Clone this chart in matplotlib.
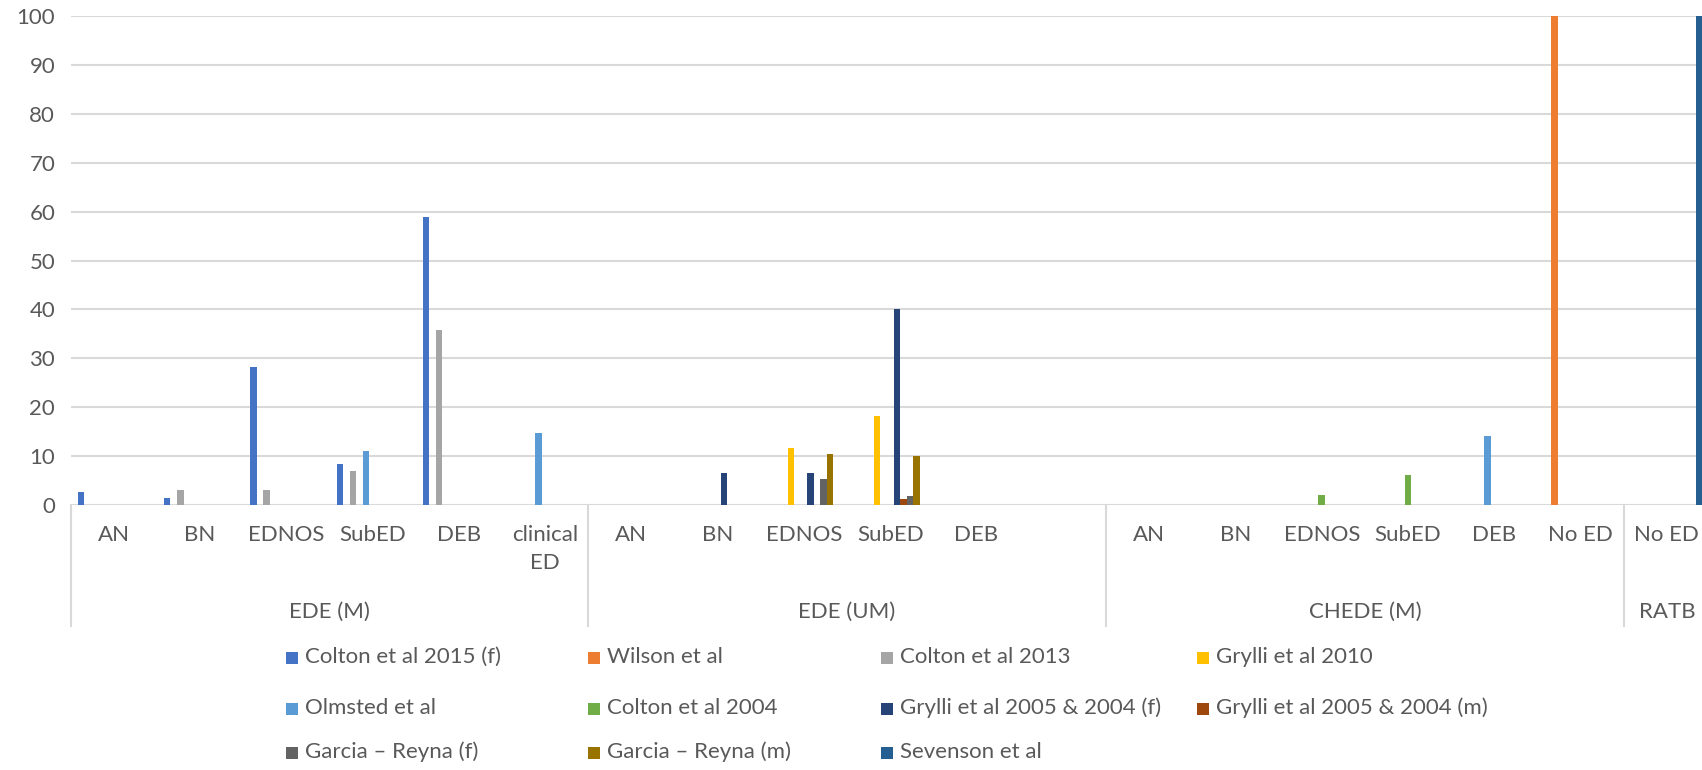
import numpy as np
import matplotlib.pyplot as plt
from matplotlib.patches import Rectangle

plt.rcParams["font.family"] = ["Lato", "DejaVu Sans"]

# x-axis: sub-categories, grouped by instrument
categories = [
    "AN", "BN", "EDNOS", "SubED", "DEB", "clinical\nED",
    "AN", "BN", "EDNOS", "SubED", "DEB", "",
    "AN", "BN", "EDNOS", "SubED", "DEB", "No ED",
    "No ED",
]
groups = ["EDE (M)", "EDE (UM)", "CHEDE (M)", "RATB"]
group_sizes = [6, 6, 6, 1]

# one value per category, 0 where the study has no entry
colton_2015_f = [2.7, 1.3, 28.2, 8.4, 59.0, 0, 0, 0, 0, 0, 0, 0, 0, 0, 0, 0, 0, 0, 0]
wilson = [0, 0, 0, 0, 0, 0, 0, 0, 0, 0, 0, 0, 0, 0, 0, 0, 0, 100, 0]
colton_2013 = [0, 3.0, 3.0, 7.0, 35.7, 0, 0, 0, 0, 0, 0, 0, 0, 0, 0, 0, 0, 0, 0]
grylli_2010 = [0, 0, 0, 0, 0, 0, 0, 0, 11.7, 18.2, 0, 0, 0, 0, 0, 0, 0, 0, 0]
olmsted = [0, 0, 0, 11.0, 0, 14.8, 0, 0, 0, 0, 0, 0, 0, 0, 0, 0, 14.0, 0, 0]
colton_2004 = [0, 0, 0, 0, 0, 0, 0, 0, 0, 0, 0, 0, 0, 0, 2.0, 6.0, 0, 0, 0]
grylli_0504_f = [0, 0, 0, 0, 0, 0, 0, 6.5, 6.5, 40.0, 0, 0, 0, 0, 0, 0, 0, 0, 0]
grylli_0504_m = [0, 0, 0, 0, 0, 0, 0, 0, 0, 1.1, 0, 0, 0, 0, 0, 0, 0, 0, 0]
garcia_f = [0, 0, 0, 0, 0, 0, 0, 0, 5.2, 1.7, 0, 0, 0, 0, 0, 0, 0, 0, 0]
garcia_m = [0, 0, 0, 0, 0, 0, 0, 0, 10.5, 10.0, 0, 0, 0, 0, 0, 0, 0, 0, 0]
sevenson = [0, 0, 0, 0, 0, 0, 0, 0, 0, 0, 0, 0, 0, 0, 0, 0, 0, 0, 100]

series = [
    ("Colton et al 2015 (f)", colton_2015_f, "#4472C4"),
    ("Wilson et al", wilson, "#ED7D31"),
    ("Colton et al 2013", colton_2013, "#A5A5A5"),
    ("Grylli et al 2010", grylli_2010, "#FFC000"),
    ("Olmsted et al", olmsted, "#5B9BD5"),
    ("Colton et al 2004", colton_2004, "#70AD47"),
    ("Grylli et al 2005 & 2004 (f)", grylli_0504_f, "#264478"),
    ("Grylli et al 2005 & 2004 (m)", grylli_0504_m, "#9E480E"),
    ("Garcia \u2013 Reyna (f)", garcia_f, "#636363"),
    ("Garcia \u2013 Reyna (m)", garcia_m, "#997300"),
    ("Sevenson et al", sevenson, "#255E91"),
]

TEXT = "#595959"
GRID = "#D9D9D9"
FS = 16
W, H = 1702, 770

fig = plt.figure(figsize=(W / 100, H / 100), dpi=100)
# plot area runs a little past the right edge of the canvas
ax = fig.add_axes([70.5 / W, 265.2 / H, 1639.5 / W, 488.5 / H])

n = len(series)
gap = 2.19
bw = 1.0 / (n + gap)
x = np.arange(len(categories))
for i, (name, vals, col) in enumerate(series):
    ax.bar(x + (i - (n - 1) / 2) * bw, vals, width=bw, color=col, lw=0, zorder=3)

ax.set_xlim(-0.5, len(categories) - 0.5)
ax.set_ylim(0, 100)
ax.set_yticks(np.arange(0, 101, 10))
ax.tick_params(axis="y", length=0, pad=11, labelsize=FS, labelcolor=TEXT)
ax.set_xticks([])
ax.grid(axis="y", color=GRID, lw=1.5, zorder=0)
ax.set_axisbelow(True)
for s in ax.spines.values():
    s.set_visible(False)

trans = ax.get_xaxis_transform()
for xi, lab in zip(x, categories):
    ax.text(xi, -0.041, lab, transform=trans, ha="center", va="top",
            fontsize=FS, color=TEXT, linespacing=1.5)

# group labels and separators
edges = np.concatenate([[0], np.cumsum(group_sizes)]) - 0.5
for k, g in enumerate(groups):
    ax.text((edges[k] + edges[k + 1]) / 2, -0.219, g, transform=trans,
            ha="center", va="center", fontsize=FS, color=TEXT)
for e in edges[:-1]:
    ax.plot([e, e], [0, -0.249], transform=trans, color=GRID, lw=1.5,
            clip_on=False, zorder=1)

# legend laid out row by row, four columns
col_x = [286, 588, 881, 1197]
row_y = [657, 708, 752]
for i, (name, vals, col) in enumerate(series):
    cx = col_x[i % 4]
    cy = row_y[i // 4]
    fig.add_artist(Rectangle((cx / W, 1 - (cy + 6.5) / H), 12 / W, 12 / H,
                             transform=fig.transFigure, color=col, lw=0))
    fig.text((cx + 19) / W, 1 - cy / H, name, va="center", ha="left",
             fontsize=FS, color=TEXT)

fig.savefig("out.png", dpi=100)
